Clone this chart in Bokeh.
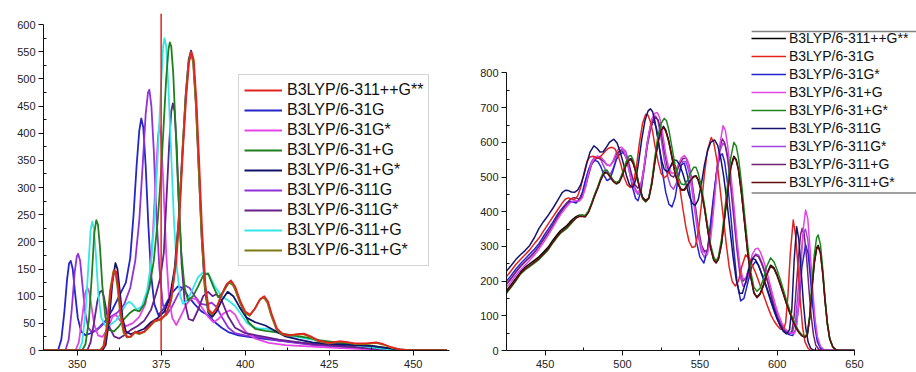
from bokeh.plotting import figure
from bokeh.layouts import row
from bokeh.models import Legend, LegendItem, Span, FixedTicker, BoxAnnotation, ColumnDataSource
from bokeh.embed import file_html
from bokeh.resources import INLINE

# ---------------- LEFT PANEL DATA (wavelength nm, intensity) ----------------
L_NAMES = ["B3LYP/6-311++G**", "B3LYP/6-31G", "B3LYP/6-31G*", "B3LYP/6-31+G", "B3LYP/6-31+G*",
           "B3LYP/6-311G", "B3LYP/6-311G*", "B3LYP/6-311+G", "B3LYP/6-311+G*"]
L_COLORS = ["#e3231f", "#2525c8", "#e346e6", "#1f7f1f", "#12126a", "#9032d6", "#68208a", "#33e6e6", "#7d7a14"]

L_RED = [(340,0),(357,0),(358,8),(359,45),(360,110),(361,148),(361.6,145),(362.3,115),(363,70),(364,35),(365,25),(366,26),(367.3,35),(368.5,32),(370,35),(371.5,45),(373,55),(375,58),(376.5,68),(378,95),(379.5,165),(380.5,250),(381.5,370),(382.5,470),(383.3,530),(384,550),(384.7,535),(385.5,460),(386.3,350),(387.2,220),(388.2,120),(389.2,75),(390.3,68),(391.5,78),(393,102),(394.5,122),(395.8,129),(397,118),(398.5,92),(400,72),(401.5,66),(403,78),(404.5,95),(405.7,100),(406.8,90),(408,65),(409.5,40),(411,31),(413,28),(415.5,30),(417.5,31),(419.5,26),(422,18),(425,14),(428,17),(430,16),(432.5,13),(436,13),(439,15),(441,12),(443.5,6),(446,2),(449,0),(460,0)]
L_OLIVE = [(340,0),(356.7,0),(357.8,8),(358.8,45),(359.8,110),(360.8,146),(361.4,143),(362.1,112),(362.8,68),(363.8,33),(364.8,24),(366,25),(367.2,33),(368.5,30),(370,34),(371.5,43),(373,53),(375,57),(376.5,66),(378,92),(379.3,160),(380.3,245),(381.3,365),(382.3,465),(383.1,528),(383.8,548),(384.5,532),(385.3,455),(386.1,345),(387,215),(388,118),(389,73),(390.1,66),(391.3,76),(392.8,100),(394.3,120),(395.6,127),(396.8,116),(398.3,90),(399.8,70),(401.3,64),(402.8,76),(404.3,93),(405.5,98),(406.6,88),(407.8,63),(409.3,39),(410.8,30),(412.8,27),(415.3,29),(417.3,30),(419.3,25),(421.8,17),(425,13),(428,16),(430,15),(432.5,12),(436,12),(439,14),(441,11),(443.5,5),(446,2),(449,0),(460,0)]
L_NAVY = [(340,0),(357.5,0),(358.5,10),(359.5,55),(360.5,125),(361.4,161),(362,150),(362.7,110),(363.5,60),(364.5,35),(366,30),(368,35),(370,40),(372,52),(374,60),(376,72),(377.5,95),(379,150),(380.2,240),(381.3,360),(382.3,470),(383.2,535),(383.9,552),(384.6,530),(385.4,450),(386.2,335),(387.1,205),(388,115),(389,70),(390.2,62),(391.5,72),(393,92),(394.8,108),(396.5,100),(398.5,78),(400.5,60),(403,52),(406,46),(409,36),(412,26),(416,20),(420,15),(426,12),(432,10),(438,8),(444,3),(448,0),(460,0)]
L_BLUE = [(340,0),(344.3,0),(345.3,20),(346.2,70),(347,130),(347.6,160),(348.1,165),(348.7,150),(349.4,105),(350.2,60),(351.2,35),(352.5,28),(354.5,33),(356.5,42),(358.5,55),(360.5,75),(362.5,100),(364.5,125),(365.8,170),(366.8,250),(367.7,340),(368.5,405),(369.1,427),(369.7,410),(370.4,340),(371.2,230),(372,140),(373,85),(374.2,65),(375.5,75),(377,92),(378.5,108),(380,118),(381.5,115),(383,100),(385,85),(387,72),(389,65),(391,52),(393,42),(395,34),(398,28),(401,25),(405,22),(410,18),(415,15),(420,12),(425,10),(430,8),(435,5),(440,2),(444,0),(460,0)]
L_VIOLET = [(340,0),(346.5,0),(347.5,20),(348.4,75),(349.3,145),(349.9,173),(350.3,178),(350.9,165),(351.6,120),(352.4,70),(353.3,42),(354.5,33),(356,38),(358,50),(360,62),(362,70),(364,85),(365.8,115),(367.3,165),(368.5,240),(369.5,340),(370.4,435),(371.1,475),(371.5,480),(372.1,450),(372.8,370),(373.6,250),(374.5,150),(375.5,85),(376.5,65),(378,78),(380,103),(382,120),(383.5,115),(385,100),(386.8,86),(388.5,84),(390,88),(391.5,80),(393,62),(395,42),(397,32),(400,28),(405,24),(410,18),(415,14),(420,10),(430,6),(440,2),(445,0),(460,0)]
L_MAGENTA = [(340,0),(349.5,0),(350.5,15),(351.5,60),(352.4,105),(353,116),(353.6,108),(354.3,80),(355.1,48),(356.2,28),(357.5,25),(359,38),(360.5,62),(361.5,66),(362.8,55),(364.5,45),(366.5,50),(368.5,62),(370.3,85),(371.5,125),(372.5,210),(373.4,320),(374.1,395),(374.5,415),(375,395),(375.7,300),(376.5,180),(377.3,100),(378.3,60),(379.5,47),(381,65),(382.5,85),(384,96),(385.3,95),(387,80),(389,62),(390.6,52),(392,58),(393.5,68),(395.5,74),(397,66),(398.5,48),(400.5,32),(403,22),(407,14),(412,10),(420,7),(430,4),(440,1),(445,0),(460,0)]
L_PURPLE = [(340,0),(353,0),(354,15),(355,50),(356,90),(356.8,108),(357.4,110),(358,98),(358.8,70),(359.7,42),(361,26),(362.5,22),(364,28),(366,38),(368,45),(370,55),(372,75),(373.5,105),(374.8,135),(375.8,180),(376.6,280),(377.4,380),(378,440),(378.5,455),(379,440),(379.6,380),(380.3,270),(381.1,160),(382,90),(383.2,58),(384.5,55),(386,75),(387.5,100),(389,108),(390.3,100),(391.5,104),(393,92),(395,62),(397,42),(400,32),(405,26),(410,20),(415,16),(420,12),(430,7),(440,2),(446,0),(460,0)]
L_CYAN = [(340,0),(350.5,0),(351.5,15),(352.5,70),(353.4,160),(354,220),(354.5,237),(355,225),(355.6,175),(356.3,105),(357.2,60),(358.5,45),(360,48),(361.5,55),(363,68),(364.5,85),(365.5,90),(366.5,85),(367.8,75),(369.3,82),(370.8,110),(372,160),(373,240),(374,360),(375,490),(375.6,560),(376,575),(376.5,560),(377.2,480),(378,360),(378.8,240),(379.7,150),(380.7,100),(381.5,86),(382.8,92),(384.3,112),(386,135),(387.7,145),(389.3,138),(391,118),(393,100),(395,92),(397,82),(399,65),(400.6,50),(402.5,43),(404.5,40),(406.5,40),(408.5,37),(410.5,31),(413,27),(415.5,25),(420,20),(425,15),(430,12),(435,8),(440,4),(445,1),(449,0),(460,0)]
L_GREEN = [(340,0),(351.5,0),(352.5,12),(353.5,55),(354.4,140),(355.1,215),(355.7,240),(356.2,232),(356.8,190),(357.5,120),(358.4,62),(359.5,38),(361,35),(362.5,45),(364,58),(365.5,68),(367,75),(368.5,72),(370,85),(371.5,115),(372.8,165),(374,240),(375,330),(375.8,420),(376.5,500),(377.2,555),(377.6,567),(378,560),(378.6,510),(379.3,410),(380.1,290),(381,180),(382,115),(383,92),(384.5,100),(386,118),(387.5,138),(389,142),(390.5,118),(392,98),(393.5,108),(395.2,125),(396.5,120),(398,98),(399.5,72),(401,52),(403,40),(406,36),(409,34),(412,30),(415,27),(418,24),(422,19),(427,15),(432,12),(437,9),(442,5),(446,2),(450,0),(460,0)]

L_SERIES = [L_RED, L_BLUE, L_MAGENTA, L_GREEN, L_NAVY, L_VIOLET, L_PURPLE, L_CYAN, L_OLIVE]
L_DRAW_ORDER = [1, 5, 2, 6, 7, 3, 4, 8, 0]
L_MARKER_X = 375
L_XTICKS = [350, 375, 400, 425, 450]
L_XMINOR = [362.5, 387.5, 412.5, 437.5]
L_YTICKS = list(range(0, 601, 50))
L_YMINOR = list(range(25, 600, 50))

# ---------------- RIGHT PANEL DATA ----------------
R_NAMES = ["B3LYP/6-311++G**", "B3LYP/6-31G", "B3LYP/6-31G*", "B3LYP/6-31+G", "B3LYP/6-31+G*",
           "B3LYP/6-311G", "B3LYP/6-311G*", "B3LYP/6-311+G", "B3LYP/6-311+G*"]
R_COLORS = ["#000000", "#e3231f", "#2323d2", "#e346e6", "#1c861c", "#14146e", "#a444e2", "#722072", "#620c0c"]

R_BLACK = [(425,172),(428,190),(431,208),(434,226),(437,240),(440,250),(443,260),(446,270),(449,284),(452,298),(455,318),(458,335),(460,346),(462,353),(464,360),(466,370),(468,379),(470,386),(472,390),(474,390),(476,388),(478,400),(480,423),(482,448),(484,470),(486,495),(488,513),(490,515),(492,503),(494,490),(496,483),(498,488),(500,508),(502,533),(504,551),(505.5,553),(507,540),(509,510),(511,470),(513,442),(515,432),(517,440),(519,483),(521,548),(523,603),(525,638),(526.5,646),(528,635),(530,603),(532,558),(534,512),(536,480),(538,464),(540,464),(542,477),(544,492),(546,502),(547.5,504),(549,492),(551,460),(553,412),(555,352),(557,297),(559,262),(560.5,254),(562,264),(564,308),(566,384),(568,460),(570,530),(572,560),(573.5,551),(575,522),(577,452),(579,367),(581,282),(583,212),(585,167),(587,154),(589,164),(591,187),(593,218),(595.8,246),(598,238),(600,218),(602,192),(604,165),(606,137),(608,112),(610,88),(612,68),(614,53),(616,43),(618,39),(619.5,46),(621,94),(622.5,178),(624,254),(625.5,296),(626.5,303),(628,283),(629.5,222),(631,142),(632.5,76),(634,34),(636,10),(638,2),(640,0),(650,0)]
R_RED = [(425,213),(428,230),(431,248),(434,262),(437,276),(440,290),(443,308),(446,324),(449,345),(452,365),(455,385),(458,405),(461,425),(463,436),(465,440),(467,437),(469,435),(471,445),(473,470),(475,510),(477,545),(479,558),(481,560),(483,555),(485,556),(487,565),(489,575),(491,583),(493,586),(495,582),(497,565),(499,535),(501,500),(503,478),(505,470),(507,480),(509,530),(511,600),(513,655),(515,681),(516.5,678),(518,660),(519.5,630),(521,590),(523,545),(525,510),(527,498),(529,505),(531,530),(533,540),(535,520),(537,470),(539,410),(541,355),(543,315),(545,297),(547,300),(549,340),(551,420),(553,510),(555,578),(557.4,614),(559,600),(561,550),(563,470),(565,390),(567,310),(569,240),(571,198),(573,186),(575,200),(577,240),(579.6,276),(582,265),(584,245),(586,225),(588,200),(590,175),(592,150),(594,125),(596,102),(598,85),(600,72),(602,62),(604,60),(605.5,80),(607,160),(608.5,280),(610.4,376),(612,330),(613.5,240),(615,140),(616.5,65),(618,25),(620,6),(622,0),(650,0)]
R_BLUE = [(425,200),(428,216),(431,234),(434,250),(437,264),(440,278),(443,292),(446,308),(449,330),(452,350),(455,370),(458,392),(461,410),(464,425),(466,430),(468,428),(470,425),(472,435),(474,455),(476,490),(478,520),(480,540),(482,548),(484,545),(486,530),(488,505),(490,490),(492,495),(494,520),(496,550),(498,565),(500.5,571),(502.5,555),(504.5,515),(506.5,470),(508.5,438),(510,432),(512,460),(514,530),(516,600),(518,645),(520.3,662),(522,640),(524,580),(526,510),(528,455),(530,422),(532,414),(534,440),(536,495),(538,535),(540,540),(542,505),(544,440),(546,370),(548,310),(550,270),(552.6,252),(555,290),(557,370),(559,450),(561,520),(563,560),(564.5,567),(566,545),(568,480),(570,390),(572,290),(574,200),(576.4,143),(578.5,150),(581,195),(583.5,240),(586,257),(588,245),(590,220),(592,195),(594,168),(596,140),(598,113),(600,90),(602,72),(604,60),(606,50),(608,45),(610,43),(612,60),(614,130),(616,240),(618.4,305),(620,280),(621.5,210),(623,130),(624.5,65),(626,25),(628,6),(630,0),(650,0)]
R_MAGENTA = [(425,182),(428,198),(431,216),(434,232),(437,246),(440,260),(443,275),(446,292),(449,312),(452,333),(455,355),(458,378),(461,398),(464,415),(466,425),(468,430),(470,432),(472,430),(474,440),(476,470),(478,510),(480,540),(482,555),(484,560),(486,558),(488,548),(490,535),(492,532),(494,548),(496,572),(498,585),(499.5,586),(501,575),(503,545),(505,505),(507,470),(509,455),(511,462),(513,500),(515,565),(517,625),(519,668),(521,684),(522.5,686),(524,672),(526,625),(528,565),(530,525),(532,510),(534,515),(536,535),(538,555),(540,562),(542,550),(544,505),(546,440),(548,370),(550,315),(552,285),(554.8,276),(557,320),(559,410),(561,510),(563,595),(565,648),(566.5,635),(568,590),(570,510),(572,420),(574,320),(576,240),(578,205),(580,210),(582,245),(584,278),(586,293),(587.5,295),(589,285),(591,262),(593,232),(595,198),(597,162),(599,130),(601,102),(603,80),(605,63),(607,54),(609,50),(611,48),(612.5,65),(614,140),(615.5,250),(617,355),(618.4,405),(619.8,380),(621.3,290),(623,175),(624.5,90),(626,40),(628,12),(630,3),(632,0),(650,0)]
R_GREEN = [(425,165),(428,182),(431,200),(434,220),(437,232),(440,242),(443,252),(446,262),(449,276),(452,290),(455,310),(458,328),(460,338),(462,345),(464,352),(466,362),(468,372),(470,382),(472,388),(474,390),(476,390),(478,402),(480,425),(482,450),(484,472),(486,498),(488,518),(490,520),(492,505),(494,490),(496,484),(498,490),(500,512),(502,540),(504,560),(505.5,562),(507,548),(509,515),(511,470),(513,437),(515,428),(517,440),(519,490),(521,560),(523,620),(525,655),(527,669),(528.5,662),(530,635),(532,585),(534,535),(536,500),(538,480),(540,478),(542,490),(544,512),(546,528),(547.5,528),(549,510),(551,472),(553,420),(555,360),(557,305),(559,270),(560.5,258),(562,270),(564,320),(566,400),(568,480),(570,555),(572,600),(573.5,590),(575,555),(577,480),(579,390),(581,300),(583,225),(585,182),(587,171),(589,180),(591,205),(593,240),(595.8,267),(598,255),(600,232),(602,205),(604,175),(606,145),(608,118),(610,93),(612,72),(614,56),(616,45),(618,40),(619.5,50),(621,100),(622.5,190),(624,275),(625.5,325),(626.5,333),(628,305),(629.5,235),(631,150),(632.5,80),(634,35),(636,10),(638,2),(640,0),(650,0)]
R_NAVY = [(425,229),(428,245),(431,262),(434,276),(437,288),(440,303),(443,325),(446,352),(449,372),(452,390),(455,410),(458,432),(461,455),(463,462),(465,461),(467,457),(469,456),(471,462),(473,478),(475,505),(477,540),(479,572),(481.5,590),(483.5,583),(485.5,572),(487.5,573),(489.5,585),(491.5,600),(494.4,609),(496.5,598),(498.5,572),(500.5,540),(502.5,505),(504.5,478),(506.5,470),(508.5,490),(510.5,545),(512.5,610),(514.5,662),(516.5,690),(518,697),(519.5,688),(521,660),(522.5,620),(524,580),(525.5,545),(527,522),(529,515),(531,530),(533,550),(535,548),(537,535),(539,510),(541,480),(543,448),(545,425),(547,418),(549,435),(551,480),(553,535),(555,575),(557,600),(559.5,607),(561.5,592),(563.5,555),(565.5,500),(567.5,430),(569.5,350),(571.5,270),(573.5,205),(575.5,165),(577.5,165),(579.5,195),(582,240),(584,265),(586,262),(588,245),(590,222),(592,198),(594,172),(596,145),(598,118),(600,92),(602,70),(604,55),(606,48),(608,60),(609.5,120),(611,260),(612.6,357),(614,320),(615.5,230),(617,135),(618.5,65),(620,25),(621.5,8),(623,2),(625,0),(650,0)]
R_VIOLET = [(425,190),(428,207),(431,225),(434,242),(437,256),(440,270),(443,285),(446,300),(449,322),(452,342),(455,362),(458,385),(461,405),(464,420),(466,428),(468,430),(470,428),(472,432),(474,450),(476,485),(478,520),(480,545),(482,558),(484,560),(486,550),(488,530),(490,512),(492,508),(494,525),(496,555),(498,575),(500,582),(502,575),(504,545),(506,505),(508,470),(510,450),(512,465),(514,520),(516,590),(518,645),(520,672),(521.5,676),(523,660),(525,610),(527,550),(529,505),(531,475),(533,465),(535,485),(537,520),(539,545),(541,545),(543,515),(545,460),(547,395),(549,330),(551,285),(553,268),(555,290),(557,360),(559,440),(561,520),(563,575),(565,598),(566.5,590),(568,550),(570,470),(572,380),(574,290),(576,215),(578,185),(580,195),(582,230),(584,262),(586,278),(588,275),(590,255),(592,230),(594,200),(596,168),(598,135),(600,105),(602,82),(604,66),(606,55),(608,48),(610,52),(612,90),(613.5,170),(615,260),(616.8,335),(618.3,350),(619.8,320),(621.3,245),(623,150),(624.5,80),(626,35),(628,10),(630,2),(632,0),(650,0)]
R_PURPLE = [(425,192),(428,208),(431,226),(434,242),(437,256),(440,268),(443,282),(446,300),(449,320),(452,340),(455,362),(458,385),(461,405),(464,425),(466,435),(468,440),(470,440),(472,436),(474,445),(476,470),(478,505),(480,535),(482,550),(484,555),(486,552),(488,545),(490,535),(492,533),(494,545),(496,565),(498,575),(500,575),(502,562),(504,535),(506,505),(508,478),(510,468),(512,480),(514,530),(516,590),(518,635),(520,665),(521.5,672),(523,665),(525,630),(527,575),(529,530),(531,505),(533,500),(535,515),(537,538),(539,553),(541,555),(543,535),(545,485),(547,420),(549,355),(551,305),(553,285),(555,290),(557,340),(559,430),(561,520),(563,585),(564.5,610),(566,600),(568,560),(570,480),(572,390),(574,300),(576,230),(578,200),(580,210),(582,240),(584,265),(586,275),(588,270),(590,250),(592,225),(594,195),(596,160),(598,125),(600,97),(602,78),(604,64),(606,55),(608,50),(609.5,55),(611,100),(612.5,190),(614,280),(615.2,335),(616.2,352),(617.5,335),(619,270),(620.5,180),(622,100),(623.5,45),(625,15),(627,3),(629,0),(650,0)]
R_MAROON = [(425,168),(428,185),(431,203),(434,222),(437,235),(440,245),(443,255),(446,265),(449,279),(452,293),(455,313),(458,330),(460,341),(462,348),(464,356),(466,365),(468,374),(470,382),(472,386),(474,386),(476,385),(478,398),(480,420),(482,445),(484,467),(486,492),(488,510),(490,512),(492,500),(494,487),(496,480),(498,485),(500,505),(502,530),(504,548),(505.5,550),(507,538),(509,508),(511,468),(513,440),(515,430),(517,438),(519,480),(521,545),(523,600),(525,635),(526.5,643),(528,632),(530,600),(532,555),(534,510),(536,478),(538,462),(540,462),(542,475),(544,490),(546,500),(547.5,502),(549,490),(551,458),(553,410),(555,350),(557,295),(559,260),(560.5,252),(562,262),(564,305),(566,380),(568,455),(570,525),(572,557),(573.5,548),(575,520),(577,450),(579,365),(581,280),(583,210),(585,165),(587,152),(589,162),(591,185),(593,215),(595.8,243),(598,235),(600,215),(602,190),(604,163),(606,135),(608,110),(610,87),(612,67),(614,52),(616,42),(618,38),(619.5,45),(621,92),(622.5,175),(624,250),(625.5,292),(626.5,300),(628,280),(629.5,220),(631,140),(632.5,75),(634,33),(636,10),(638,2),(640,0),(650,0)]

R_SERIES = [R_BLACK, R_RED, R_BLUE, R_MAGENTA, R_GREEN, R_NAVY, R_VIOLET, R_PURPLE, R_MAROON]
R_DRAW_ORDER = [0, 6, 2, 7, 3, 1, 5, 4, 8]
R_XTICKS = [450, 500, 550, 600, 650]
R_XMINOR = [475, 525, 575, 625]
R_YTICKS = list(range(0, 801, 100))
R_YMINOR = list(range(50, 800, 100))

FONT = "Liberation Sans"


def style_axes(p, xt, xm, yt, ym, xb, yb):
    p.grid.visible = False
    p.outline_line_color = None
    p.background_fill_color = "white"
    p.border_fill_color = "white"
    p.xaxis.ticker = FixedTicker(ticks=xt, minor_ticks=xm)
    p.yaxis.ticker = FixedTicker(ticks=yt, minor_ticks=ym)
    p.xaxis.bounds = xb
    p.yaxis.bounds = yb
    for ax in (p.xaxis[0], p.yaxis[0]):
        ax.axis_line_color = "#111111"
        ax.axis_line_width = 1
        ax.major_tick_line_color = "#111111"
        ax.minor_tick_line_color = "#111111"
        ax.major_tick_out = 5
        ax.major_tick_in = 0
        ax.minor_tick_out = 0
        ax.minor_tick_in = 3
        ax.major_label_text_font = FONT
        ax.major_label_text_font_size = "11px"
        ax.major_label_text_color = "#222222"
    p.yaxis.major_label_standoff = 3
    p.xaxis.major_label_standoff = 4


def add_series(p, series, colors, names, order, width):
    renderers = [None] * len(series)
    for i in order:
        pts = series[i]
        src = ColumnDataSource(dict(x=[a for a, b in pts], y=[b for a, b in pts]))
        renderers[i] = p.line("x", "y", source=src, line_color=colors[i], line_width=width,
                              line_join="round")
    return [LegendItem(label=names[i], renderers=[renderers[i]]) for i in range(len(series))]


# ---------------- LEFT FIGURE ----------------
p1 = figure(width=466, height=372, x_range=(340, 460.8), y_range=(0, 620.3),
            output_backend="svg", toolbar_location=None,
            min_border_left=43, min_border_right=17, min_border_top=13, min_border_bottom=22)
style_axes(p1, L_XTICKS, L_XMINOR, L_YTICKS, L_YMINOR, (340, 460.8), (0, 600))
items1 = add_series(p1, L_SERIES, L_COLORS, L_NAMES, L_DRAW_ORDER, 1.8)
p1.add_layout(Span(location=L_MARKER_X, dimension="height", line_color="#e3231f", line_width=1.5))
leg1 = Legend(items=items1, location=(195, 84), label_text_font=FONT, label_text_font_size="16px",
              label_text_color="#111111", border_line_color="#aaaaaa", border_line_width=1,
              background_fill_color="white", background_fill_alpha=1.0,
              glyph_width=38, glyph_height=20, label_height=20, label_standoff=5,
              spacing=0, padding=5, margin=0)
p1.add_layout(leg1)

# ---------------- RIGHT FIGURE ----------------
p2 = figure(width=450, height=372, x_range=(425, 690.1), y_range=(0, 971.4),
            output_backend="svg", toolbar_location=None,
            min_border_left=40, min_border_right=0, min_border_top=10, min_border_bottom=22)
style_axes(p2, R_XTICKS, R_XMINOR, R_YTICKS, R_YMINOR, (425, 650), (0, 800))
items2 = add_series(p2, R_SERIES, R_COLORS, R_NAMES, R_DRAW_ORDER, 1.5)
# legend rules (top and bottom) as in the original
p2.add_layout(BoxAnnotation(left=583.5, right=690.1, bottom=917.5, top=922, fill_color="#808080",
                            fill_alpha=1.0, line_color=None))
p2.add_layout(BoxAnnotation(left=583.5, right=690.1, bottom=452, top=456.5, fill_color="#808080",
                            fill_alpha=1.0, line_color=None))
leg2 = Legend(items=items2, location=(245, 159), label_text_font=FONT, label_text_font_size="14px",
              label_text_color="#111111", border_line_color=None,
              background_fill_color=None, background_fill_alpha=0.0,
              glyph_width=35, glyph_height=18, label_height=18, label_standoff=3,
              spacing=0, padding=2, margin=0)
p2.add_layout(leg2)

layout = row(p1, p2, spacing=0)
open("out.html", "w").write(file_html(layout, INLINE))
